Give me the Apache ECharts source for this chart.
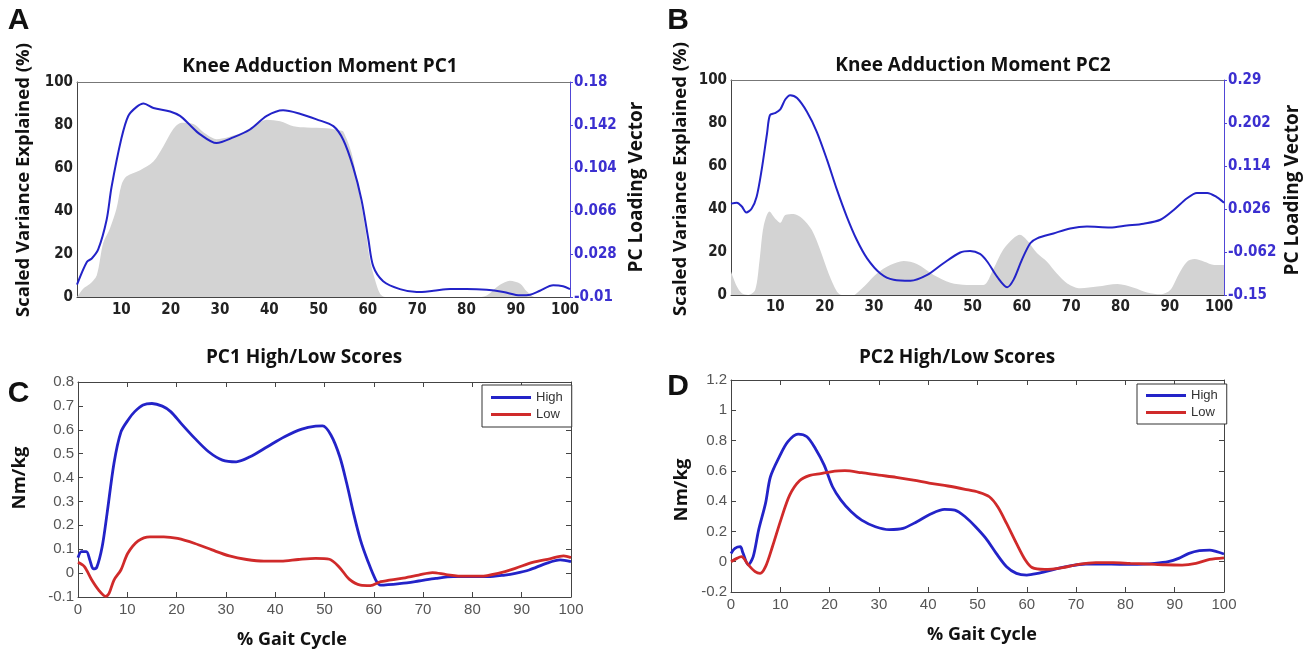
<!DOCTYPE html>
<html>
<head>
<meta charset="utf-8">
<title>Knee Adduction Moment PC1 / PC2</title>
<script src="https://cdn.jsdelivr.net/npm/echarts@6/dist/echarts.min.js"></script>
<style>
    html, body { margin: 0; padding: 0; background: #fff; }
    #main { width: 1312px; height: 650px; }
</style>
</head>
<body>
<div id="main"></div>
<script>
// ---- data ----
// x = % gait cycle
var gaitTicks = [10, 20, 30, 40, 50, 60, 70, 80, 90, 100];

// A: scaled variance explained (%) and PC1 loading vector
var pc1Variance = [[1,0],[2.3,4],[3.6,6],[5,10],[6.3,25],[7.7,32],[9,41],[10,52],[11,56],[13.8,59],[16.5,63],[18.5,70],[20.5,78],[22.2,81],[24.6,80.5],[27,76],[29.3,73.4],[34,76],[36.8,79.4],[39.5,82.5],[42.2,81.7],[44.9,79.4],[47.6,78.8],[51.6,78.5],[54.3,77.5],[55,77],[56.7,67],[58,51.6],[59.4,33],[60.4,17.6],[61.4,8.4],[62.5,1.4],[63.5,0],[82,0],[84,0.6],[86.8,5.7],[88.8,7.6],[90.9,6.2],[92.2,2.7],[94,0],[101,0]];
var pc1Loading = [[1,0.001],[3,0.021],[4,0.024],[5.3,0.032],[7,0.058],[8,0.087],[10,0.130],[11.4,0.150],[13.1,0.158],[14.5,0.161],[16.5,0.157],[19.9,0.154],[21.9,0.150],[23.9,0.142],[25.9,0.134],[29.3,0.126],[32.7,0.131],[36.1,0.138],[39.5,0.150],[42.8,0.155],[46.2,0.152],[49.6,0.147],[53,0.141],[55,0.129],[57,0.105],[58.7,0.076],[60.1,0.041],[61.1,0.017],[63.1,0.004],[66.5,-0.003],[69.9,-0.0056],[73.3,-0.0045],[76.7,-0.003],[80,-0.003],[84.1,-0.0037],[87.5,-0.0056],[90.9,-0.0085],[92.9,-0.008],[94.9,-0.0045],[97.6,0.0003],[99.6,-0.0005],[101,-0.003]];
var pc1LoadingTicks = [-0.01, 0.028, 0.066, 0.104, 0.142, 0.18];

// B: scaled variance explained (%) and PC2 loading vector
var pc2Variance = [[1,10.9],[2.2,3.9],[3.2,0.8],[4.5,0],[5.9,2.3],[6.8,16.3],[7.6,31.8],[8.8,38.8],[9.9,35.7],[11,33.6],[12,37.2],[13.7,37.7],[15.4,35.7],[17.4,30.2],[19.1,20.9],[20.8,10],[22.5,1.5],[23.5,0],[26,0],[26.5,0.8],[28.6,5.4],[30.6,10],[33.3,13.9],[36,15.8],[38.7,14.4],[42.1,9.3],[45.5,5.7],[48.8,4.7],[52.2,4.7],[54.2,12],[56.2,21],[58.3,26.4],[59.6,28],[61,25.6],[63.1,19.4],[65.1,15.5],[67.1,10],[69.2,5.4],[71.9,3.1],[75.3,3.9],[79.4,5.1],[82.7,3.4],[85.4,1.2],[88.1,0.3],[90.1,2.3],[91.9,10],[93.5,15.5],[95,16.7],[97,15.5],[99,14],[101,14]];
var pc2Loading = [[1,0.037],[2.2,0.039],[3.2,0.031],[4.1,0.019],[5.2,0.027],[6.2,0.051],[7.2,0.105],[8.3,0.18],[8.9,0.218],[9.9,0.222],[11,0.230],[12,0.250],[13,0.259],[14.4,0.253],[16.4,0.225],[18.4,0.184],[20.5,0.126],[22.5,0.065],[24.5,0.010],[26.5,-0.037],[28.6,-0.075],[31.3,-0.106],[34,-0.119],[37.4,-0.121],[40.8,-0.109],[44.1,-0.085],[47.5,-0.063],[49.5,-0.060],[51.5,-0.066],[53,-0.082],[55,-0.113],[57,-0.134],[58.3,-0.119],[60,-0.078],[61.7,-0.044],[63.1,-0.034],[66.4,-0.024],[69.8,-0.014],[73.2,-0.010],[77.9,-0.012],[81.3,-0.008],[84.7,-0.004],[88.1,0.004],[90.8,0.024],[93.5,0.048],[95.5,0.059],[97.6,0.059],[99.6,0.050],[101,0.039]];
var pc2LoadingTicks = [-0.15, -0.062, 0.026, 0.114, 0.202, 0.29];

// C: PC1 high / low scorers, Nm/kg
var pc1High = [[0,0.065],[0.7,0.09],[1.7,0.09],[2.4,0.055],[3.1,0.018],[3.8,0.024],[4.9,0.11],[5.9,0.25],[7.3,0.46],[8.7,0.59],[10.3,0.645],[11.5,0.676],[13.2,0.704],[15,0.71],[17.1,0.699],[18.8,0.676],[20.9,0.627],[23.7,0.564],[26.5,0.508],[29.3,0.473],[32.1,0.466],[34.9,0.487],[38.4,0.529],[41.9,0.571],[45.4,0.603],[48.2,0.615],[49.6,0.616],[51.3,0.578],[53.1,0.487],[54.5,0.376],[55.9,0.25],[57.3,0.138],[58.7,0.055],[60.4,-0.029],[61.4,-0.05],[65.6,-0.043],[69.1,-0.033],[72.6,-0.022],[76.1,-0.015],[79.6,-0.015],[83.1,-0.015],[86.6,-0.008],[88.7,-0.001],[91.5,0.013],[95,0.041],[97.8,0.055],[100,0.048]];
var pc1Low = [[0,0.045],[1.3,0.027],[2.8,-0.029],[4.2,-0.071],[5.6,-0.097],[6.3,-0.085],[7.3,-0.029],[8.7,0.013],[10.1,0.083],[12.2,0.135],[14.6,0.152],[17.4,0.152],[20.2,0.145],[23.7,0.124],[27.2,0.097],[30.7,0.072],[34.2,0.057],[37.7,0.05],[41.2,0.05],[44.7,0.057],[48.2,0.062],[51,0.058],[53,0.025],[55,-0.025],[57.3,-0.05],[59.3,-0.052],[61.4,-0.036],[65.6,-0.022],[69.1,-0.008],[71.9,0.002],[74.7,-0.006],[78.2,-0.013],[81.7,-0.013],[85.2,-0.001],[88.7,0.02],[92.2,0.045],[95.7,0.06],[98.5,0.072],[100,0.065]];

// D: PC2 high / low scorers, Nm/kg
var pc2High = [[0,0.055],[0.8,0.088],[1.9,0.099],[2.4,0.06],[3.5,-0.02],[4.5,0.033],[5.6,0.209],[7,0.385],[8,0.561],[9.8,0.693],[11.5,0.792],[13.6,0.843],[15.4,0.825],[17.1,0.748],[18.9,0.638],[20.6,0.495],[22.3,0.407],[24.4,0.33],[26.5,0.275],[29.3,0.231],[32.1,0.212],[34.9,0.22],[37.7,0.264],[40.5,0.315],[43.3,0.346],[45.4,0.341],[47.5,0.297],[49.6,0.231],[51.7,0.154],[53.8,0.055],[55.9,-0.033],[57.9,-0.077],[60,-0.088],[62.2,-0.077],[65,-0.055],[68.5,-0.029],[72,-0.015],[75.4,-0.015],[78.9,-0.017],[82.4,-0.017],[85.9,-0.011],[88.7,0],[90.8,0.022],[92.9,0.055],[95,0.073],[97.1,0.077],[98.5,0.066],[100,0.051]];
var pc2Low = [[0,0],[1.2,0.022],[2.1,0.033],[3.5,-0.02],[4.9,-0.066],[5.9,-0.077],[7,-0.033],[8.4,0.099],[10.1,0.275],[11.9,0.44],[13.9,0.535],[16,0.57],[18.2,0.582],[20.2,0.594],[23.1,0.601],[26.5,0.588],[30,0.572],[33.5,0.557],[37,0.539],[40.5,0.517],[44,0.5],[47.5,0.478],[50.3,0.458],[52.4,0.429],[54.1,0.363],[55.9,0.253],[57.9,0.121],[59.7,0.011],[61.1,-0.039],[63.6,-0.05],[67,-0.04],[70.5,-0.017],[74,-0.006],[77.5,-0.006],[81,-0.011],[84.5,-0.015],[88,-0.02],[91.5,-0.022],[94.3,-0.011],[97.1,0.015],[100,0.026]];

var condFont = "'DejaVu Sans Condensed', 'Liberation Sans Narrow', 'DejaVu Sans', sans-serif";
var plainFont = "'Liberation Sans', Arial, sans-serif";
var headFont = "'Open Sans', 'Noto Sans', sans-serif";
var blueAxis = '#5046d6';
var blueLine = '#2323c8';
var redLine = '#d02a2a';

var myChart = echarts.init(document.getElementById('main'), null, {renderer: 'canvas'});

function fmt3(v) {
    return String(Math.round(v * 1000) / 1000);
}

// plain border line (top / right edge of a box)
function edge(gridIndex, pos, min, max, color) {
    return {
        gridIndex: gridIndex, type: 'value', position: pos, min: min, max: max,
        axisLine: {show: true, onZero: false, lineStyle: {color: color}},
        axisTick: {show: false}, axisLabel: {show: false}, splitLine: {show: false}
    };
}

// matlab style box edge with inward ticks
function tickEdge(gridIndex, pos, min, max, interval) {
    return {
        gridIndex: gridIndex, type: 'value', position: pos, min: min, max: max, interval: interval,
        axisLine: {show: true, onZero: false, lineStyle: {color: '#444'}},
        axisTick: {show: true, inside: true, length: 5, lineStyle: {color: '#444'}},
        axisLabel: {show: false}, splitLine: {show: false}
    };
}

var boldLabel = {fontFamily: condFont, fontWeight: 'bold', fontSize: 15, color: '#222'};
var grayLabel = {fontFamily: plainFont, fontSize: 15, color: '#555'};

var xAxes = [
    // A
    {gridIndex: 0, type: 'value', min: 1, max: 101,
        axisLine: {onZero: false, lineStyle: {color: '#444'}}, axisTick: {show: false}, splitLine: {show: false},
        axisLabel: Object.assign({customValues: gaitTicks, margin: 6}, boldLabel)},
    edge(0, 'top', 1, 101, '#777'),
    // B
    {gridIndex: 1, type: 'value', min: 1, max: 101,
        axisLine: {onZero: false, lineStyle: {color: '#444'}}, axisTick: {show: false}, splitLine: {show: false},
        axisLabel: Object.assign({customValues: gaitTicks, margin: 5}, boldLabel)},
    edge(1, 'top', 1, 101, '#777'),
    // C
    {gridIndex: 2, type: 'value', min: 0, max: 100, interval: 10,
        axisLine: {onZero: false, lineStyle: {color: '#444'}},
        axisTick: {show: true, inside: true, length: 5, lineStyle: {color: '#444'}}, splitLine: {show: false},
        axisLabel: Object.assign({margin: 5}, grayLabel)},
    tickEdge(2, 'top', 0, 100, 10),
    // D
    {gridIndex: 3, type: 'value', min: 0, max: 100, interval: 10,
        axisLine: {onZero: false, lineStyle: {color: '#444'}},
        axisTick: {show: true, inside: true, length: 5, lineStyle: {color: '#444'}}, splitLine: {show: false},
        axisLabel: Object.assign({margin: 5}, grayLabel)},
    tickEdge(3, 'top', 0, 100, 10)
];

function loadingAxis(gridIndex, ticks) {
    return {
        gridIndex: gridIndex, type: 'value', position: 'right',
        min: ticks[0], max: ticks[ticks.length - 1],
        axisLine: {show: true, onZero: false, lineStyle: {color: blueAxis}},
        axisTick: {show: true, length: 3, customValues: ticks, lineStyle: {color: blueAxis}},
        axisLabel: {customValues: ticks, formatter: fmt3, margin: 4, fontFamily: condFont,
            fontWeight: 'bold', fontSize: 15, color: '#3b2fd0'},
        splitLine: {show: false}
    };
}

var yAxes = [
    {gridIndex: 0, type: 'value', min: 0, max: 100, interval: 20,
        axisLine: {show: true, onZero: false, lineStyle: {color: '#444'}}, axisTick: {show: false},
        splitLine: {show: false}, axisLabel: Object.assign({margin: 4}, boldLabel)},
    loadingAxis(0, pc1LoadingTicks),
    {gridIndex: 1, type: 'value', min: 0, max: 100, interval: 20,
        axisLine: {show: true, onZero: false, lineStyle: {color: '#444'}}, axisTick: {show: false},
        splitLine: {show: false}, axisLabel: Object.assign({margin: 4}, boldLabel)},
    loadingAxis(1, pc2LoadingTicks),
    {gridIndex: 2, type: 'value', min: -0.1, max: 0.8, interval: 0.1,
        axisLine: {show: true, onZero: false, lineStyle: {color: '#444'}},
        axisTick: {show: true, inside: true, length: 5, lineStyle: {color: '#444'}},
        splitLine: {show: false}, axisLabel: Object.assign({margin: 4}, grayLabel)},
    tickEdge(2, 'right', -0.1, 0.8, 0.1),
    {gridIndex: 3, type: 'value', min: -0.2, max: 1.2, interval: 0.2,
        axisLine: {show: true, onZero: false, lineStyle: {color: '#444'}},
        axisTick: {show: true, inside: true, length: 5, lineStyle: {color: '#444'}},
        splitLine: {show: false}, axisLabel: Object.assign({margin: 4}, grayLabel)},
    tickEdge(3, 'right', -0.2, 1.2, 0.2)
];

function area(name, data, xi, yi) {
    return {
        name: name, type: 'line', xAxisIndex: xi, yAxisIndex: yi, data: data,
        smooth: 0.3, symbol: 'none', silent: true, z: 1,
        lineStyle: {width: 0}, itemStyle: {color: '#d3d3d3'},
        areaStyle: {color: '#d3d3d3', opacity: 1}
    };
}

function curve(name, data, xi, yi, color, width) {
    return {
        name: name, type: 'line', xAxisIndex: xi, yAxisIndex: yi, data: data,
        smooth: 0.3, symbol: 'none', z: 3,
        lineStyle: {width: width, color: color}, itemStyle: {color: color}
    };
}

function txt(x, y, s, font, rot, color) {
    return {
        type: 'text', x: x, y: y, rotation: rot || 0, silent: true,
        style: {text: s, font: font, fill: color || '#111', align: 'center', verticalAlign: 'middle'}
    };
}

var rot = Math.PI / 2;
var letterFont = "bold 30px 'Liberation Sans', Arial, sans-serif";
var titleFont = "bold 19px " + headFont;

var option = {
    backgroundColor: '#fff',
    animation: false,
    grid: [
        {left: 77, top: 82, width: 493, height: 215, containLabel: false, outerBoundsMode: 'none'},
        {left: 731, top: 80, width: 493, height: 215, containLabel: false, outerBoundsMode: 'none'},
        {left: 78, top: 382, width: 493, height: 215, containLabel: false, outerBoundsMode: 'none'},
        {left: 731, top: 380, width: 493, height: 212, containLabel: false, outerBoundsMode: 'none'}
    ],
    xAxis: xAxes,
    yAxis: yAxes,
    legend: [
        {data: ['High', 'Low'], orient: 'vertical', left: 482, top: 385, padding: [6, 9, 6, 9], itemGap: 4,
            icon: 'rect', itemWidth: 40, itemHeight: 3, borderColor: '#333', borderWidth: 1,
            backgroundColor: '#fff', selectedMode: false,
            textStyle: {fontFamily: plainFont, fontSize: 13, color: '#333'}},
        {data: ['High', 'Low'], orient: 'vertical', left: 1137, top: 384, padding: [5, 9, 5, 9], itemGap: 4,
            icon: 'rect', itemWidth: 40, itemHeight: 3, borderColor: '#333', borderWidth: 1,
            backgroundColor: '#fff', selectedMode: false,
            textStyle: {fontFamily: plainFont, fontSize: 13, color: '#333'}}
    ],
    series: [
        area('PC1 variance', pc1Variance, 0, 0),
        curve('PC1 loading', pc1Loading, 0, 1, blueLine, 2),
        area('PC2 variance', pc2Variance, 2, 2),
        curve('PC2 loading', pc2Loading, 2, 3, blueLine, 2),
        curve('High', pc1High, 4, 4, blueLine, 2.8),
        curve('Low', pc1Low, 4, 4, redLine, 2.8),
        curve('High', pc2High, 6, 6, blueLine, 2.8),
        curve('Low', pc2Low, 6, 6, redLine, 2.8)
    ],
    graphic: [
        txt(18.5, 21, 'A', letterFont),
        txt(678, 21, 'B', letterFont),
        txt(18.5, 394, 'C', letterFont),
        txt(678, 387, 'D', letterFont),
        txt(320, 67, 'Knee Adduction Moment PC1', titleFont),
        txt(973, 66, 'Knee Adduction Moment PC2', titleFont),
        txt(304, 358, 'PC1 High/Low Scores', titleFont),
        txt(957, 358, 'PC2 High/Low Scores', titleFont),
        txt(24, 180, 'Scaled Variance Explained (%)', "bold 18.5px " + headFont, rot),
        txt(681, 179, 'Scaled Variance Explained (%)', "bold 18.5px " + headFont, rot),
        txt(637, 187, 'PC Loading Vector', "bold 19px " + headFont, rot),
        txt(1293, 190, 'PC Loading Vector', "bold 19px " + headFont, rot),
        txt(20, 478, 'Nm/kg', "bold 18.5px " + headFont, rot),
        txt(682, 490, 'Nm/kg', "bold 18.5px " + headFont, rot),
        txt(292, 640, '% Gait Cycle', "bold 18px " + headFont),
        txt(982, 635, '% Gait Cycle', "bold 18px " + headFont)
    ]
};

myChart.setOption(option);
</script>
</body>
</html>
